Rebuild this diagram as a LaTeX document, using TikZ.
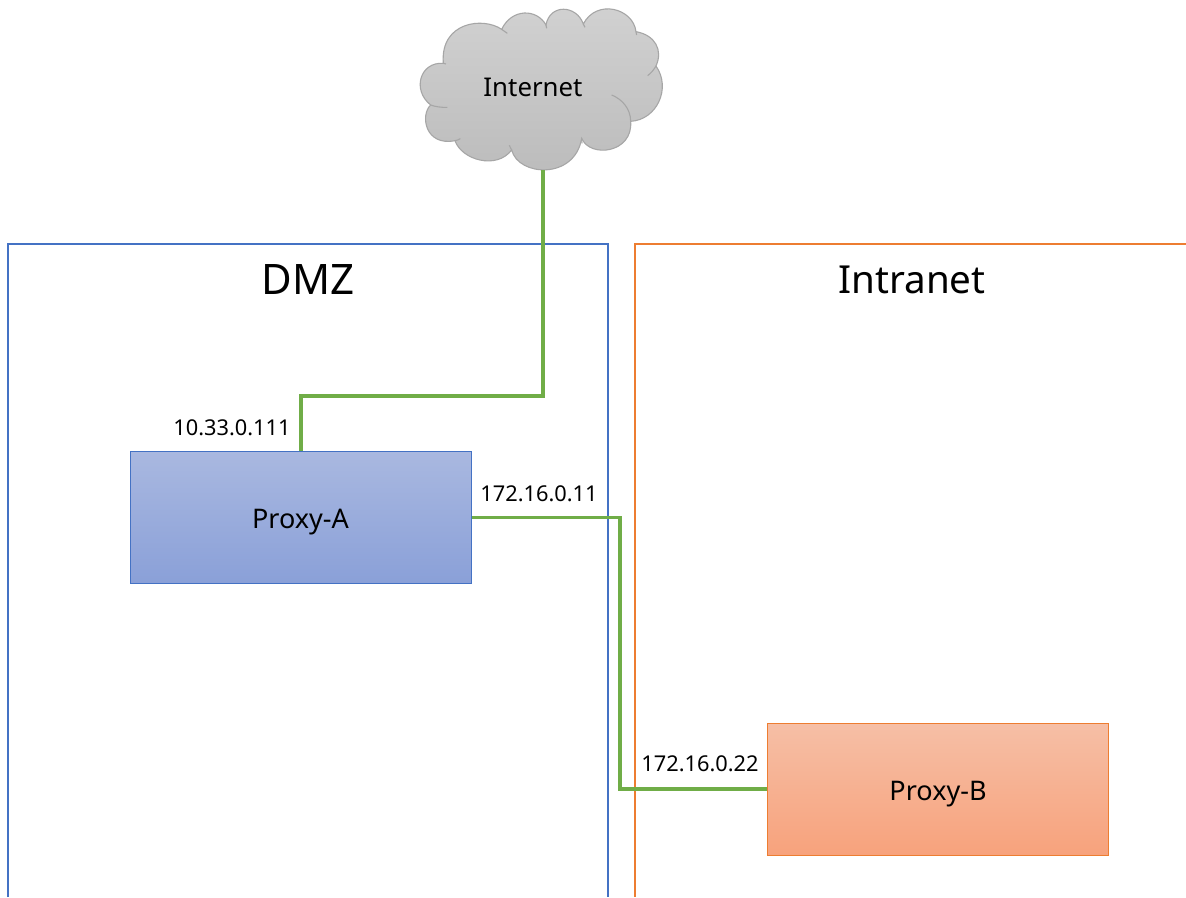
\documentclass[tikz,border=0pt]{standalone}
\usepackage{fontspec}
\setmainfont{Noto Sans}
\begin{document}
\begin{tikzpicture}[x=1pt,y=-1pt,
  zone/.style={line width=2.3pt},
  link/.style={draw=linkgreen,line width=3.4pt},
  lab/.style={font=\fontsize{21.8}{26}\selectfont,text=black,inner sep=0pt},
  srv/.style={line width=1pt,minimum width=341pt,minimum height=132pt,inner sep=0pt,font=\fontsize{27}{30}\selectfont,text height=22pt,text depth=0pt},
  title/.style={inner sep=0pt},
  cloudline/.style={draw=cloudedge,line width=1.1pt}]
\definecolor{linkgreen}{HTML}{70AD47}
\definecolor{bluez}{HTML}{4472C4}
\definecolor{orangez}{HTML}{ED7D31}
\definecolor{cloudedge}{HTML}{A6A6A6}
\definecolor{cloudtop}{HTML}{D2D2D2}
\definecolor{cloudbot}{HTML}{BBBBBB}
\definecolor{bluetop}{HTML}{A9B8E0}
\definecolor{bluebot}{HTML}{8AA0D8}
\definecolor{orangetop}{HTML}{F6BFA6}
\definecolor{orangebot}{HTML}{F7A27C}
\useasboundingbox (0,0) rectangle (1186,897);
\fill[white] (0,0) rectangle (1186,897);
\path[draw=bluez,zone] (8,897) -- (8,244) -- (608,244) -- (608,897);
\path[draw=orangez,zone] (1186,244) -- (635,244) -- (635,897);
\node[title,font=\fontsize{42}{50}\selectfont] (dmz) at (308,280) {DMZ};
\node[title,font=\fontsize{38.6}{46}\selectfont] (intra) at (912,280) {Intranet};
\begin{scope}[shift={(400,0)},x=0.3333pt,y=-0.3333pt]
\path[cloudline,top color=cloudtop,bottom color=cloudbot]
 (130,190) .. controls (60,185) and (35,270) .. (92,315)
 .. controls (60,345) and (75,440) .. (165,422)
 .. controls (185,480) and (290,510) .. (335,450)
 .. controls (355,530) and (525,540) .. (545,415)
 .. controls (570,475) and (700,460) .. (692,364)
 .. controls (770,360) and (815,265) .. (768,198)
 .. controls (790,150) and (765,105) .. (708,95)
 .. controls (700,25) and (590,-5) .. (550,72)
 .. controls (530,15) and (450,10) .. (438,75)
 .. controls (410,25) and (335,25) .. (305,88)
 .. controls (250,50) and (120,65) .. (130,190) -- cycle;
\draw[cloudline] (92,315) .. controls (105,320) and (125,323) .. (142,322);
\draw[cloudline] (165,422) .. controls (170,421) and (175,420) .. (181,416);
\draw[cloudline] (335,450) .. controls (333,447) and (331,442) .. (328,436);
\draw[cloudline] (545,415) -- (546,430);
\draw[cloudline] (692,364) .. controls (692,325) and (665,297) .. (635,285);
\draw[cloudline] (768,198) .. controls (762,208) and (755,218) .. (743,227);
\draw[cloudline] (708,95) -- (710,105);
\draw[cloudline] (550,72) -- (555,82);
\draw[cloudline] (438,75) -- (440,85);
\draw[cloudline] (305,88) -- (322,100);
\draw[cloudline] (130,190) -- (138,192);
\end{scope}
\node[inner sep=0pt,font=\fontsize{25.8}{30}\selectfont] (inet) at (533,87) {Internet};
\coordinate (cloudb) at (543,170);
\node[srv,draw=bluez,top color=bluetop,bottom color=bluebot] (pa) at (300.5,517.5) {Proxy-A};
\node[srv,draw=orangez,top color=orangetop,bottom color=orangebot] (pb) at (938,789) {Proxy-B};
\draw[link] (cloudb) -- (543,396) -- (301,396) -- (301,451);
\draw[link] (pa.east) -- (620,517.5) -- (620,789) -- (pb.west);
\node[lab] (l1) at (232,428) {10.33.0.111};
\node[lab] (l2) at (539,494) {172.16.0.11};
\node[lab] (l3) at (700,764) {172.16.0.22};
\end{tikzpicture}
\end{document}
